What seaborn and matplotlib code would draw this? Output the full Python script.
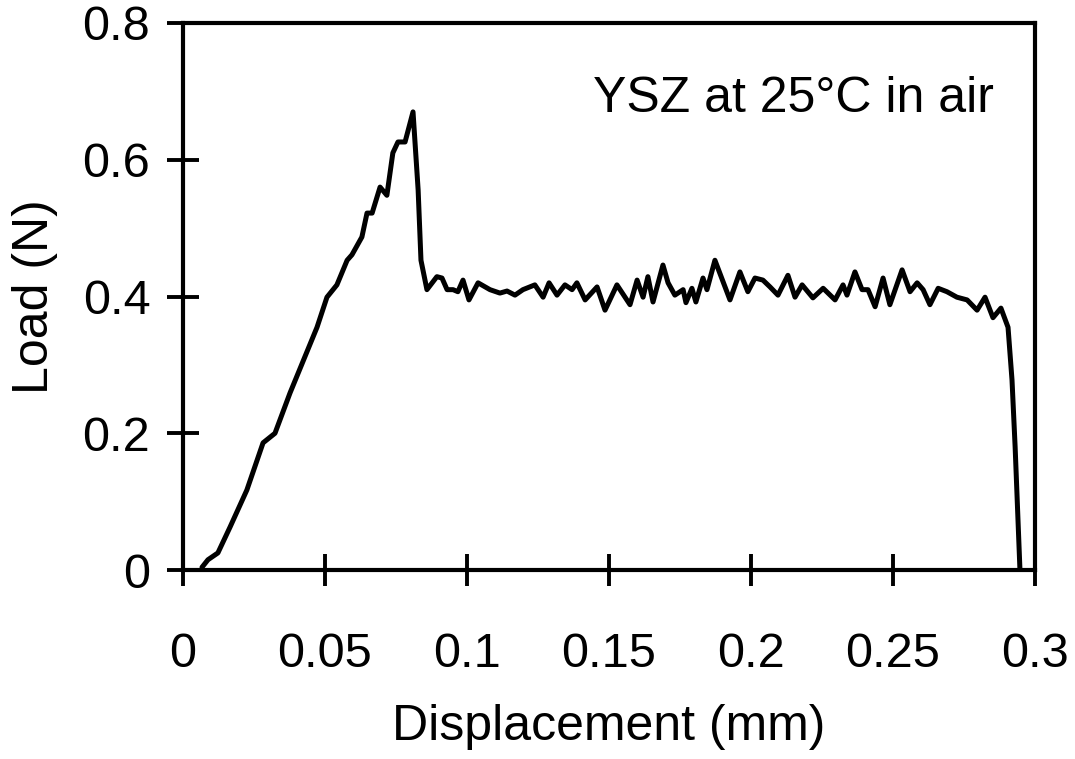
import matplotlib
matplotlib.use("Agg")
import matplotlib.pyplot as plt
import seaborn as sns
import pandas as pd

# Displacement (mm) and load (N)
displacement = [0.0067, 0.0088, 0.0123, 0.0166, 0.0225, 0.0282, 0.0324, 0.0377,
                0.0472, 0.0507, 0.0542, 0.0578, 0.0595, 0.0630, 0.0648, 0.0666,
                0.0694, 0.0718, 0.0739, 0.0757, 0.0782, 0.0810, 0.0828, 0.0838,
                0.0859, 0.0894, 0.0912, 0.0930, 0.0951, 0.0968, 0.0986, 0.1007,
                0.1039, 0.1081, 0.1116, 0.1141, 0.1169, 0.1197, 0.1239, 0.1268,
                0.1289, 0.1317, 0.1345, 0.1370, 0.1387, 0.1416, 0.1458, 0.1486,
                0.1528, 0.1574, 0.1599, 0.1620, 0.1637, 0.1655, 0.1690, 0.1708,
                0.1732, 0.1761, 0.1771, 0.1792, 0.1806, 0.1831, 0.1845, 0.1873,
                0.1926, 0.1961, 0.1989, 0.2014, 0.2042, 0.2067, 0.2095, 0.2130,
                0.2155, 0.2180, 0.2218, 0.2254, 0.2296, 0.2324, 0.2338, 0.2366,
                0.2391, 0.2412, 0.2437, 0.2465, 0.2489, 0.2532, 0.2560, 0.2585,
                0.2606, 0.2630, 0.2659, 0.2690, 0.2725, 0.2761, 0.2796, 0.2824,
                0.2852, 0.2880, 0.2905, 0.2919, 0.2930, 0.2947]
load = [0.004, 0.015, 0.025, 0.063, 0.117, 0.186, 0.200, 0.259,
        0.355, 0.399, 0.417, 0.453, 0.461, 0.487, 0.522, 0.522,
        0.560, 0.548, 0.610, 0.626, 0.626, 0.670, 0.556, 0.453,
        0.410, 0.429, 0.427, 0.410, 0.410, 0.407, 0.424, 0.395,
        0.420, 0.410, 0.405, 0.408, 0.402, 0.410, 0.417, 0.399,
        0.420, 0.402, 0.417, 0.410, 0.420, 0.395, 0.414, 0.380,
        0.417, 0.388, 0.424, 0.399, 0.429, 0.392, 0.446, 0.420,
        0.402, 0.410, 0.391, 0.412, 0.392, 0.427, 0.410, 0.453,
        0.395, 0.436, 0.407, 0.427, 0.424, 0.414, 0.402, 0.431,
        0.399, 0.417, 0.398, 0.412, 0.395, 0.417, 0.402, 0.436,
        0.410, 0.410, 0.385, 0.427, 0.388, 0.439, 0.407, 0.420,
        0.410, 0.388, 0.412, 0.407, 0.399, 0.395, 0.380, 0.399,
        0.369, 0.383, 0.355, 0.278, 0.180, 0.000]

x_ticks = [0, 0.05, 0.1, 0.15, 0.2, 0.25, 0.3]
x_tick_labels = ["0", "0.05", "0.1", "0.15", "0.2", "0.25", "0.3"]
y_ticks = [0, 0.2, 0.4, 0.6, 0.8]
y_tick_labels = ["0", "0.2", "0.4", "0.6", "0.8"]

df = pd.DataFrame({"Displacement (mm)": displacement, "Load (N)": load})

sns.set_style("white")
plt.rcParams["font.family"] = ["Liberation Sans", "DejaVu Sans"]

fig = plt.figure(figsize=(10.75, 7.59), dpi=100)
ax = fig.add_axes([0.1702, 0.249, 0.7926, 0.7207])

sns.lineplot(data=df, x="Displacement (mm)", y="Load (N)", ax=ax,
             color="black", linewidth=3.6, estimator=None, sort=False)

ax.set_xlim(0, 0.3)
ax.set_ylim(0, 0.8)
ax.set_xticks(x_ticks)
ax.set_xticklabels(x_tick_labels)
ax.set_yticks(y_ticks)
ax.set_yticklabels(y_tick_labels)

for s in ax.spines.values():
    s.set_color("black")
    s.set_linewidth(3.0)

ax.tick_params(axis="both", direction="inout", length=23, width=2.8,
               color="black", labelsize=35, labelcolor="black",
               bottom=True, left=True, top=False, right=False)
ax.tick_params(axis="x", pad=33)
ax.tick_params(axis="y", pad=12)

ax.set_xlabel("Displacement (mm)", fontsize=36, color="black")
ax.set_ylabel("Load (N)", fontsize=36, color="black")
ax.xaxis.set_label_coords(0.5, -0.245)
ax.yaxis.set_label_coords(-0.147, 0.5)

ax.text(0.481, 0.837, "YSZ at 25\u00b0C in air", transform=ax.transAxes,
        fontsize=36, ha="left", va="baseline", color="black")

fig.savefig("out.png", dpi=100, facecolor="white")
